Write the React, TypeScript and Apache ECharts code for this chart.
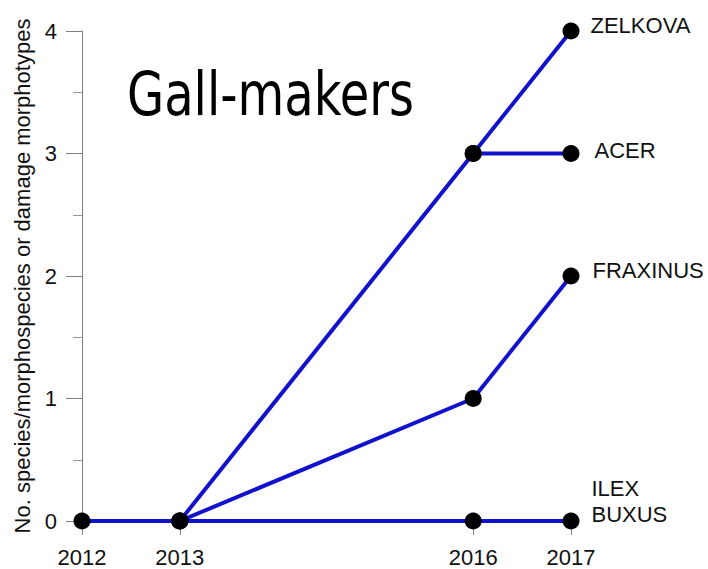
import React, { useEffect, useRef } from "react";
import * as echarts from "echarts";

const years = [2012, 2013, 2016, 2017];
const yTicks = [0, 1, 2, 3, 4];
const zelkova: [number, number][] = [[2012, 0], [2013, 0], [2016, 3], [2017, 4]];
const acer: [number, number][] = [[2016, 3], [2017, 3]];
const fraxinus: [number, number][] = [[2013, 0], [2016, 1], [2017, 2]];
const ilexBuxus: [number, number][] = [[2013, 0], [2016, 0], [2017, 0]];
const seriesNames = ["ZELKOVA", "ACER", "FRAXINUS", "ILEX\nBUXUS"];
const title = "Gall-makers";
const yName = "No. species/morphospecies or damage morphotypes";

const FONT = "'Liberation Sans', Arial, sans-serif";
const BLUE = "#1212cc";

function mk(name: string, data: [number, number][], dist: number, dy: number) {
  return {
    type: "line",
    name,
    data: data.map((d, i) =>
      i === data.length - 1
        ? {
            value: d,
            label: {
              show: true,
              position: "right",
              distance: dist,
              offset: [0, dy],
              formatter: name,
              fontFamily: FONT,
              fontSize: 22,
              lineHeight: 26,
              color: "#111",
            },
          }
        : { value: d }
    ),
    symbol: "circle",
    symbolSize: 17,
    itemStyle: { color: "#000" },
    lineStyle: { color: BLUE, width: 4 },
    z: 3,
  };
}

export default function App() {
  const ref = useRef<HTMLDivElement>(null);
  useEffect(() => {
    document.body.style.margin = "0";
    const chart = echarts.init(ref.current!, null, { renderer: "svg" });
    chart.setOption({
      animation: false,
      backgroundColor: "#fff",
      grid: { left: 82, right: 137, top: 31, bottom: 48, containLabel: false, outerBoundsMode: "none" },
      xAxis: {
        type: "value",
        min: 2012,
        max: 2017,
        interval: 1,
        axisLine: { show: false },
        splitLine: { show: false },
        axisTick: {
          show: true,
          length: 14,
          customValues: years,
          lineStyle: { color: "#888", width: 1 },
        },
        axisLabel: {
          customValues: years,
          margin: 25,
          fontSize: 22,
          fontFamily: FONT,
          color: "#111",
          formatter: (v: number) => String(v),
        },
      },
      yAxis: {
        type: "value",
        min: 0,
        max: 4,
        interval: 1,
        name: yName,
        nameLocation: "middle",
        nameGap: 38,
        nameTextStyle: { fontSize: 22, fontFamily: FONT, color: "#111" },
        axisLine: { show: true, lineStyle: { color: "#808080", width: 1 } },
        axisTick: { show: true, length: 16, lineStyle: { color: "#808080", width: 1 } },
        minorTick: { show: true, splitNumber: 2, length: 9, lineStyle: { color: "#999", width: 1 } },
        splitLine: { show: false },
        axisLabel: {
          margin: 25,
          fontSize: 22,
          fontFamily: FONT,
          color: "#111",
          customValues: yTicks,
        },
      },
      graphic: [
        {
          type: "text",
          x: 127,
          y: 95,
          scaleY: 1.25,
          style: {
            text: title,
            fontFamily: "'DejaVu Sans', Verdana, sans-serif",
            fontSize: 48,
            fill: "#000",
            verticalAlign: "middle",
            align: "left",
          },
        },
      ],
      series: [
        mk(seriesNames[0], zelkova, 11, -6),
        mk(seriesNames[1], acer, 15, -3),
        mk(seriesNames[2], fraxinus, 13, -6),
        mk(seriesNames[3], ilexBuxus, 12, -20),
      ],
    });
    return () => chart.dispose();
  }, []);
  return (
    <div
      ref={ref}
      style={{ position: "fixed", left: 0, top: 0, width: 708, height: 569 }}
    />
  );
}
